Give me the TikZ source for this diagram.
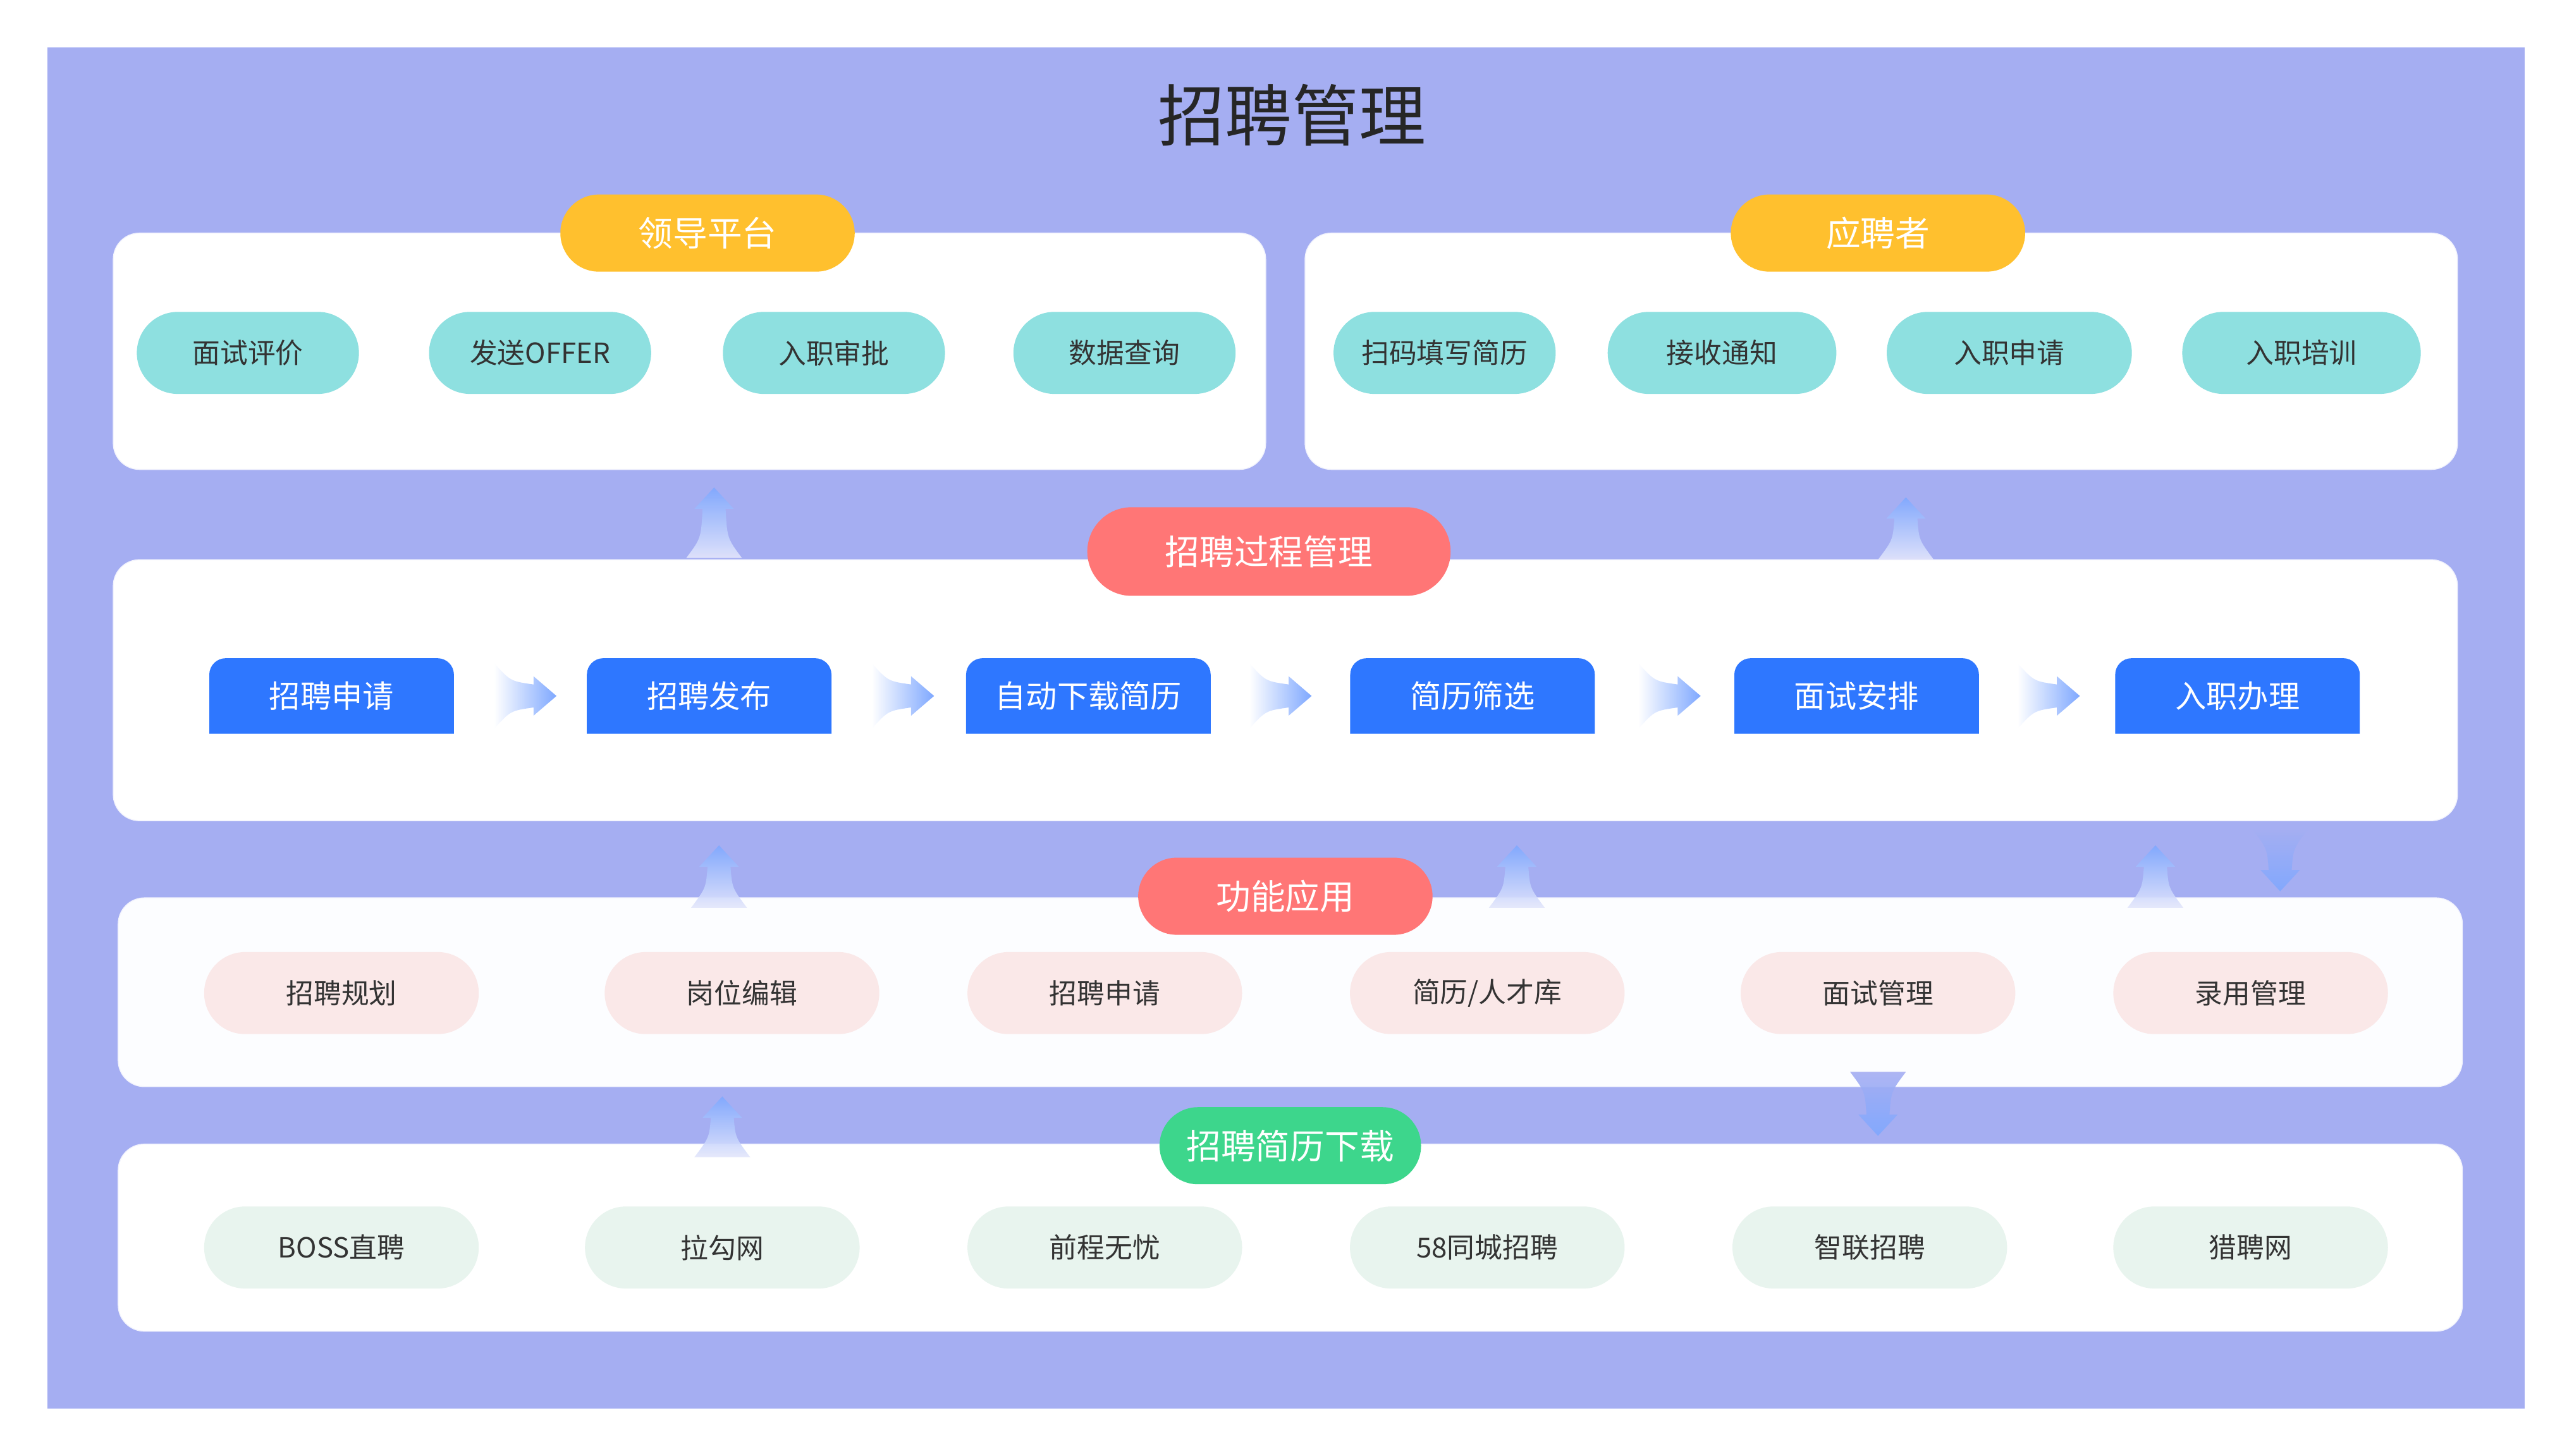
\documentclass[tikz,border=0pt]{standalone}
\usepackage{fontspec}
\setmainfont{Noto Sans CJK SC}
\usetikzlibrary{positioning,shapes.misc}

\definecolor{bgpurple}{HTML}{A5AEF2}
\definecolor{tagyellow}{HTML}{FFC02E}
\definecolor{tagred}{HTML}{FF7676}
\definecolor{taggreen}{HTML}{3DD68C}
\definecolor{teal}{HTML}{8EE0E0}
\definecolor{procblue}{HTML}{2E77FF}
\definecolor{pinkitem}{HTML}{FAE8E8}
\definecolor{greenitem}{HTML}{E8F4EE}
\definecolor{flowblue}{HTML}{7FA8FF}

\tikzset{
  panel/.style={fill=#1, draw=white!85!bgpurple, line width=0.8pt, rounded corners=0.8cm},
  tag/.style={rounded rectangle, fill=#1, text=white, minimum width=9.2cm, minimum height=2.35cm, font=\fontsize{30}{32}\selectfont},
  lead/.style={rounded rectangle, fill=teal, text=black!80, minimum width=7cm, minimum height=2.5cm, font=\fontsize{24}{26}\selectfont},
  func/.style={rounded rectangle, fill=#1, text=black!80, minimum width=8.6cm, minimum height=2.5cm, font=\fontsize{24}{26}\selectfont},
  proc/.style={fill=procblue, text=white, minimum width=7.45cm, minimum height=2.3cm, font=\fontsize{27}{29}\selectfont,
    rounded rectangle=false, path picture={}, inner sep=0pt},
}

% flow arrows (x, tip y, base y)
\newcommand\upflow[3]{%
  \shade[top color=flowblue, bottom color=bgpurple!30!white, opacity=.9]
    (#1,#2) -- (#1+12,#2+13) -- (#1+7,#2+13) .. controls (#1+8,#3-12) .. (#1+17,#3)
    -- (#1-17,#3) .. controls (#1-8,#3-12) .. (#1-7,#2+13) -- (#1-12,#2+13) -- cycle;}
\newcommand\downflow[3]{%
  \shade[bottom color=flowblue, top color=bgpurple, opacity=.9]
    (#1,#2) -- (#1+12,#2-13) -- (#1+7,#2-13) .. controls (#1+8,#3+12) .. (#1+17,#3)
    -- (#1-17,#3) .. controls (#1-8,#3+12) .. (#1-7,#2-13) -- (#1-12,#2-13) -- cycle;}
\newcommand\rightflow[2]{%
  \shade[right color=flowblue, left color=white]
    (#1+19,#2) -- (#1+5,#2+12) -- (#1+5,#2+7) .. controls (#1-9,#2+9) .. (#1-19,#2+20)
    -- (#1-19,#2-20) .. controls (#1-9,#2-9) .. (#1+5,#2-7) -- (#1+5,#2-12) -- cycle;}

\begin{document}
\begin{tikzpicture}[x=0.05cm, y=-0.05cm]
  \useasboundingbox (0,0) rectangle (1568,887);
  \fill[bgpurple] (29,29) rectangle (1538,858);
  \node[text=black!85, font=\fontsize{58}{60}\selectfont] (title) at (787,70) {招聘管理};

  % panels
  \draw[panel=white] (69,142) rectangle (771,286);
  \draw[panel=white] (795,142) rectangle (1497,286);
  \draw[panel=white] (69,341) rectangle (1497,500);
  \draw[panel=white!97!bgpurple] (72,547) rectangle (1500,662);
  \draw[panel=white] (72,697) rectangle (1500,811);

  % flows between layers
  \upflow{435}{297}{340}
  \upflow{1161}{303}{341}
  \upflow{438}{515}{553}
  \upflow{924}{515}{553}
  \upflow{1313}{515}{553}
  \downflow{1389}{543}{505}
  \upflow{440}{668}{705}
  \downflow{1144}{692}{653}

  % tags
  \node[tag=tagyellow] (leader) at (431,142) {领导平台};
  \node[tag=tagyellow] (appl) at (1144,142) {应聘者};
  \node[tag=tagred, minimum width=11.3cm, minimum height=2.7cm] (proc) at (773,336) {招聘过程管理};
  \node[tag=tagred] (func) at (783,546) {功能应用};
  \node[tag=taggreen, minimum width=8.2cm] (down) at (786,698) {招聘简历下载};

  % leader / applicant items
  \node[lead] (l1) at (151,215) {面试评价};
  \node[lead] (l2) at (329,215) {发送OFFER};
  \node[lead] (l3) at (508,215) {入职审批};
  \node[lead] (l4) at (685,215) {数据查询};
  \node[lead] (a1) at (880,215) {扫码填写简历};
  \node[lead, minimum width=7.2cm] (a2) at (1049,215) {接收通知};
  \node[lead, minimum width=7.7cm] (a3) at (1224,215) {入职申请};
  \node[lead, minimum width=7.5cm] (a4) at (1402,215) {入职培训};

  % process
  \foreach \n/\x/\t in {p1/202/招聘申请, p2/432/招聘发布, p3/663/自动下载简历, p4/897/简历筛选, p5/1131/面试安排, p6/1363/入职办理} {
    \fill[procblue, rounded corners=0.5cm] (\x-74.5,447) -- (\x-74.5,401) -- (\x+74.5,401) [sharp corners] -- (\x+74.5,447) -- cycle;
    \node[text=white, font=\fontsize{27}{29}\selectfont] (\n) at (\x,424) {\t};
  }
  \foreach \x in {320,550,780,1017,1248} {\rightflow{\x}{424}}

  % function items
  \foreach \n/\x/\t in {f1/208/招聘规划, f2/452/岗位编辑, f3/673/招聘申请, f4/906/{简历/人才库}, f5/1144/面试管理, f6/1371/录用管理}
    \node[func=pinkitem] (\n) at (\x,605) {\t};

  % download sources
  \foreach \n/\x/\t in {d1/208/BOSS直聘, d2/440/拉勾网, d3/673/前程无忧, d4/906/58同城招聘, d5/1139/智联招聘, d6/1371/猎聘网}
    \node[func=greenitem] (\n) at (\x,760) {\t};
\end{tikzpicture}
\end{document}
